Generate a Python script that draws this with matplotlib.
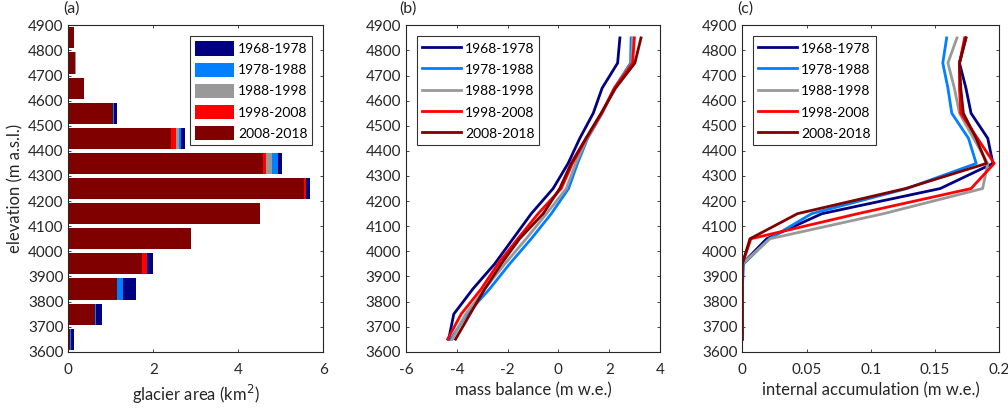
import matplotlib.pyplot as plt
import numpy as np

plt.rcParams['font.family'] = ['Lato', 'DejaVu Sans']
plt.rcParams['axes.unicode_minus'] = False

elev = [3650, 3750, 3850, 3950, 4050, 4150, 4250, 4350, 4450, 4550, 4650, 4750, 4850]
periods = ['1968-1978', '1978-1988', '1988-1998', '1998-2008', '2008-2018']
colors = ['#000080', '#0080ff', '#999999', '#ff0000', '#800000']

# glacier area per band (km2), one list per decade
area_6878 = [0.13, 0.79, 1.59, 1.99, 2.88, 4.51, 5.69, 5.03, 2.75, 1.14, 0.37, 0.17, 0.13]
area_7888 = [0.06, 0.64, 1.29, 1.86, 2.88, 4.51, 5.58, 4.93, 2.65, 1.08, 0.37, 0.17, 0.13]
area_8898 = [0.05, 0.62, 1.15, 1.86, 2.88, 4.51, 5.58, 4.79, 2.60, 1.04, 0.37, 0.17, 0.13]
area_9808 = [0.05, 0.62, 1.15, 1.85, 2.88, 4.51, 5.58, 4.64, 2.53, 1.04, 0.37, 0.16, 0.13]
area_0818 = [0.05, 0.62, 1.15, 1.73, 2.88, 4.50, 5.55, 4.58, 2.42, 1.04, 0.37, 0.16, 0.13]

# mass balance (m w.e.)
mb_6878 = [-4.32, -4.12, -3.37, -2.51, -1.79, -1.07, -0.21, 0.38, 0.84, 1.37, 1.72, 2.33, 2.42]
mb_7888 = [-4.24, -3.60, -2.71, -1.92, -1.07, -0.28, 0.40, 0.75, 1.15, 1.72, 2.20, 2.84, 2.86]
mb_8898 = [-4.18, -3.65, -2.90, -2.11, -1.27, -0.47, 0.31, 0.68, 1.13, 1.72, 2.22, 2.88, 2.92]
mb_9808 = [-4.36, -3.83, -3.04, -2.38, -1.60, -0.80, 0.11, 0.55, 1.10, 1.70, 2.20, 2.92, 2.99]
mb_0818 = [-4.05, -3.48, -2.90, -2.25, -1.53, -0.60, 0.05, 0.50, 1.08, 1.68, 2.25, 3.01, 3.25]

# internal accumulation (m w.e.)
ia_6878 = [0, 0, 0, 0, 0.019, 0.062, 0.154, 0.195, 0.191, 0.178, 0.174, 0.169, 0.174]
ia_7888 = [0, 0, 0, 0.001, 0.021, 0.054, 0.128, 0.182, 0.176, 0.163, 0.160, 0.156, 0.159]
ia_8898 = [0, 0, 0, 0, 0.0215, 0.110, 0.187, 0.191, 0.180, 0.169, 0.165, 0.160, 0.167]
ia_9808 = [0, 0, 0, 0, 0.0067, 0.090, 0.178, 0.196, 0.183, 0.170, 0.169, 0.169, 0.173]
ia_0818 = [0, 0, 0, 0, 0.006, 0.043, 0.127, 0.190, 0.182, 0.172, 0.170, 0.169, 0.174]

areas = [area_6878, area_7888, area_8898, area_9808, area_0818]
mbs = [mb_6878, mb_7888, mb_8898, mb_9808, mb_0818]
ias = [ia_6878, ia_7888, ia_8898, ia_9808, ia_0818]

fig = plt.figure(figsize=(10.08, 4.09), dpi=100)
ax1 = fig.add_axes([0.0678, 0.140, 0.253, 0.798])
ax2 = fig.add_axes([0.4028, 0.140, 0.252, 0.798])
ax3 = fig.add_axes([0.7364, 0.140, 0.255, 0.798])

tc = '#262626'
for ax in [ax1, ax2, ax3]:
    ax.set_ylim(3600, 4900)
    ax.set_yticks(np.arange(3600, 4901, 100))
    ax.tick_params(direction='in', length=2.5, width=0.6, labelsize=11,
                   colors=tc, right=True, top=True)
    ax.tick_params(axis='x', pad=8)
    for s in ax.spines.values():
        s.set_color(tc)
        s.set_linewidth(0.8)

legkw = dict(fontsize=10, fancybox=False, edgecolor='black', borderaxespad=0.8,
             labelspacing=0.5, handletextpad=0.3, borderpad=0.35)

for i in range(5):
    ax1.barh(elev, areas[i], height=84, color=colors[i], label=periods[i])
ax1.set_xlim(0, 6)
ax1.set_xticks([0, 2, 4, 6])
ax1.set_xlabel('glacier area (km$^2$)', fontsize=12, color=tc)
ax1.set_ylabel('elevation (m a.s.l.)', fontsize=12, color=tc, labelpad=3)
leg = ax1.legend(loc='upper right', handlelength=2.8, handleheight=1.2, **legkw)
leg.get_frame().set_linewidth(0.8)

for i in range(5):
    ax2.plot(mbs[i], elev, color=colors[i], lw=2, label=periods[i])
ax2.set_xlim(-6, 4)
ax2.set_xticks(np.arange(-6, 5, 2))
ax2.set_xlabel('mass balance (m w.e.)', fontsize=12, color=tc)
leg = ax2.legend(loc='upper left', handlelength=2.8, handleheight=1.2, **legkw)
leg.get_frame().set_linewidth(0.8)

for i in range(5):
    ax3.plot(ias[i], elev, color=colors[i], lw=2, label=periods[i])
ax3.set_xlim(0, 0.2)
ax3.set_xticks([0, 0.05, 0.1, 0.15, 0.2])
ax3.set_xticklabels(['0', '0.05', '0.1', '0.15', '0.2'])
ax3.set_xlabel('internal accumulation (m w.e.)', fontsize=12, color=tc)
leg = ax3.legend(loc='upper left', handlelength=2.8, handleheight=1.2, **legkw)
leg.get_frame().set_linewidth(0.8)

fig.text(0.071, 0.997, '(a)', fontsize=11.5, color=tc, ha='center', va='top')
fig.text(0.405, 0.997, '(b)', fontsize=11.5, color=tc, ha='center', va='top')
fig.text(0.739, 0.997, '(c)', fontsize=11.5, color=tc, ha='center', va='top')

fig.savefig('out.png', dpi=100)
